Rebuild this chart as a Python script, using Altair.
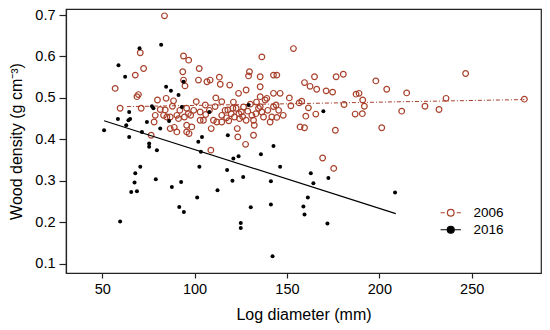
import altair as alt
import pandas as pd

# ---- data ----
x2006 = [83.7, 70.6, 72.4, 67.9, 57.0, 69.6, 68.8, 59.7, 71.1, 78.1, 76.5, 79.9, 84.6, 81.4, 78.7,
         83.2, 85.0, 86.8, 84.1, 86.8, 89.0, 90.4, 88.6, 90.4, 91.3, 93.6, 94.0, 94.0, 96.8, 94.8,
         95.7, 95.7, 96.6, 97.9, 94.5, 95.7, 97.0, 100.9, 98.5, 102.5, 102.1, 103.0, 104.8, 105.8, 106.7,
         108.4, 109.0, 108.8, 111.1, 110.2, 112.0, 113.4, 114.7, 114.7, 114.7, 113.9, 119.0, 118.0, 119.8, 120.7,
         121.6, 122.5, 123.1, 123.4, 123.8, 124.0, 125.3, 124.3, 127.9, 127.9, 127.6, 129.7, 129.2, 131.0, 131.9,
         131.9, 132.3, 134.6, 135.5, 135.5, 135.5, 136.4, 135.5, 137.3, 138.2, 139.1, 141.8, 140.9, 142.7, 142.7,
         153.5, 144.5, 146.3, 151.3, 152.1, 144.1, 144.5, 156.6, 158.0, 159.5, 162.5, 164.9, 166.1, 161.6, 160.2,
         165.6, 157.1, 159.5, 171.2, 174.7, 176.6, 180.5, 180.9, 176.2, 169.3, 187.4, 189.0, 191.0, 191.9, 186.9,
         190.8, 198.1, 204.0, 201.3, 214.8, 212.1, 224.7, 232.3, 236.1, 246.7, 278.5, 175.3, 142.7, 103.0,
         116.5, 117.3, 126.5, 128.8, 130.2, 133.2, 136.4, 139.6, 126.0, 121.0, 108.0, 106.0, 99.5, 92.0, 88.0,
         145.5, 148.0, 118.5, 133.5, 111.5]
y2006 = [0.698, 0.609, 0.571, 0.555, 0.523, 0.508, 0.503, 0.475, 0.475, 0.442, 0.410, 0.495, 0.499, 0.472, 0.458,
         0.458, 0.454, 0.454, 0.471, 0.426, 0.429, 0.418, 0.493, 0.458, 0.450, 0.563, 0.543, 0.601, 0.591, 0.529,
         0.475, 0.434, 0.462, 0.458, 0.454, 0.418, 0.414, 0.491, 0.430, 0.571, 0.543, 0.466, 0.446, 0.483, 0.539,
         0.543, 0.426, 0.374, 0.479, 0.446, 0.442, 0.550, 0.491, 0.458, 0.442, 0.533, 0.531, 0.471, 0.462, 0.475,
         0.454, 0.475, 0.426, 0.406, 0.511, 0.462, 0.466, 0.450, 0.446, 0.519, 0.388, 0.563, 0.553, 0.458, 0.446,
         0.410, 0.434, 0.475, 0.479, 0.503, 0.527, 0.599, 0.551, 0.454, 0.495, 0.499, 0.454, 0.442, 0.479, 0.555,
         0.619, 0.555, 0.511, 0.500, 0.481, 0.483, 0.453, 0.488, 0.492, 0.537, 0.528, 0.551, 0.521, 0.476, 0.456,
         0.461, 0.430, 0.428, 0.517, 0.514, 0.551, 0.557, 0.484, 0.422, 0.355, 0.509, 0.511, 0.495, 0.480, 0.461,
         0.462, 0.541, 0.521, 0.428, 0.512, 0.468, 0.480, 0.472, 0.499, 0.559, 0.497, 0.330, 0.511, 0.446,
         0.470, 0.452, 0.478, 0.468, 0.485, 0.462, 0.466, 0.470, 0.455, 0.490, 0.470, 0.460, 0.470, 0.470, 0.480,
         0.470, 0.458, 0.445, 0.490, 0.500]

x2016 = [51.0, 58.8, 62.4, 58.5, 63.0, 64.2, 65.1, 64.6, 64.6, 70.2, 71.5, 74.2, 75.4, 75.4, 76.9,
         77.7, 79.6, 81.4, 81.9, 84.6, 87.2, 91.3, 93.1, 94.0, 102.0, 104.0, 103.4, 108.0, 118.0, 121.0,
         123.8, 129.2, 135.9, 142.7, 59.7, 65.7, 67.5, 67.9, 68.8, 70.6, 79.0, 87.7, 92.7, 91.7, 94.2,
         101.4, 102.6, 112.4, 117.6, 120.5, 125.0, 125.0, 126.3, 130.4, 141.3, 141.3, 142.2, 146.3, 162.9, 164.3,
         161.3, 158.9, 159.5, 172.4, 171.9, 208.5, 169.7, 86.2]
y2016 = [0.422, 0.579, 0.551, 0.449, 0.434, 0.446, 0.449, 0.406, 0.466, 0.620, 0.418, 0.442, 0.390, 0.382, 0.480,
         0.475, 0.374, 0.426, 0.628, 0.527, 0.517, 0.507, 0.478, 0.539, 0.394, 0.406, 0.370, 0.466, 0.410, 0.354,
         0.359, 0.483, 0.364, 0.384, 0.202, 0.273, 0.296, 0.318, 0.275, 0.334, 0.304, 0.285, 0.297, 0.237, 0.225,
         0.260, 0.334, 0.277, 0.326, 0.300, 0.198, 0.186, 0.309, 0.236, 0.299, 0.243, 0.118, 0.334, 0.318, 0.294,
         0.260, 0.238, 0.219, 0.307, 0.197, 0.272, 0.468, 0.444]

fit_x_2006 = [63.4, 278.5]
fit_y_2006 = [0.479, 0.496]
fit_x_2016 = [51.0, 208.9]
fit_y_2016 = [0.445, 0.221]

years = ["2006", "2016"]
x_ticks = [50, 100, 150, 200, 250]
y_ticks = [0.1, 0.2, 0.3, 0.4, 0.5, 0.6, 0.7]

# ---- style ----
FONT = "Liberation Sans"
BROWN = "#a8402b"
X_DOMAIN = [30.4, 287.5]
Y_DOMAIN = [0.0776, 0.7145]

# legend symbols ("-o-" and "--●--") as custom paths
circ = "M0.95,0A0.95,0.95 0 1,1 -0.95,0A0.95,0.95 0 1,1 0.95,0Z"
sym2006 = "M-2.9,0H-1.7M1.7,0H2.9" + circ
sym2016 = "M-2.9,0H-0.95M0.95,0H2.9" + "M1.0,0A1.0,1.0 0 1,1 -1.0,0A1.0,1.0 0 1,1 1.0,0Z"

df06 = pd.DataFrame({"x": x2006, "y": y2006})
df16 = pd.DataFrame({"x": x2016, "y": y2016})
fit06 = pd.DataFrame({"x": fit_x_2006, "y": fit_y_2006})
fit16 = pd.DataFrame({"x": fit_x_2016, "y": fit_y_2016})
leg_df = pd.DataFrame({"year": years})

xs = alt.Scale(domain=X_DOMAIN, nice=False, zero=False)
ys = alt.Scale(domain=Y_DOMAIN, nice=False, zero=False)
x_enc = alt.X("x:Q", scale=xs, axis=alt.Axis(values=x_ticks, title="Log diameter (mm)"))
y_enc = alt.Y("y:Q", scale=ys, axis=alt.Axis(values=y_ticks, format=".1f", title="Wood density (g cm⁻³)"))

circles = alt.Chart(df06).mark_point(
    shape="circle", filled=False, size=32, strokeWidth=1.2, color=BROWN, opacity=1
).encode(x=x_enc, y=y_enc)

dots = alt.Chart(df16).mark_circle(size=16, color="black", opacity=1).encode(x=x_enc, y=y_enc)

line06 = alt.Chart(fit06).mark_line(color=BROWN, strokeDash=[4, 2, 1, 2], strokeWidth=1).encode(x=x_enc, y=y_enc)
line16 = alt.Chart(fit16).mark_line(color="black", strokeWidth=1.2).encode(x=x_enc, y=y_enc)

leg = alt.Legend(
    orient="none", legendX=378, legendY=197, title=None,
    labelFont=FONT, labelFontSize=13.5, labelColor="black", labelOffset=16,
    symbolSize=49, symbolStrokeWidth=1.2, rowPadding=2
)
legend_layer = alt.Chart(leg_df).transform_filter("false").mark_point(
    filled=True, size=49, strokeWidth=1.2, opacity=1
).encode(
    shape=alt.Shape("year:N", scale=alt.Scale(domain=years, range=[sym2006, sym2016]), legend=leg),
    stroke=alt.Stroke("year:N", scale=alt.Scale(domain=years, range=[BROWN, "black"]), legend=leg),
    fill=alt.Fill("year:N", scale=alt.Scale(domain=years, range=["white", "black"]), legend=leg),
)

chart = alt.layer(circles, line06, dots, line16, legend_layer).properties(
    width=475, height=264,
    autosize=alt.AutoSizeParams(type="none"),
    padding={"left": 58, "top": 1, "right": 1, "bottom": 57},
).configure_axis(
    labelFont=FONT, titleFont=FONT, labelFontSize=14.5, titleFontSize=16,
    titleFontWeight="normal", labelColor="black", titleColor="black",
    domainColor="#222222", tickColor="#222222", domainWidth=1.2, tickWidth=1.2, grid=False,
).configure_axisX(
    tickSize=5, labelPadding=4, titlePadding=11,
).configure_axisY(
    tickSize=7, labelPadding=4, titlePadding=10,
).configure_view(
    stroke="#222222", strokeWidth=1.2,
)

chart.save("out.html", embed_options={"renderer": "svg", "actions": False})
